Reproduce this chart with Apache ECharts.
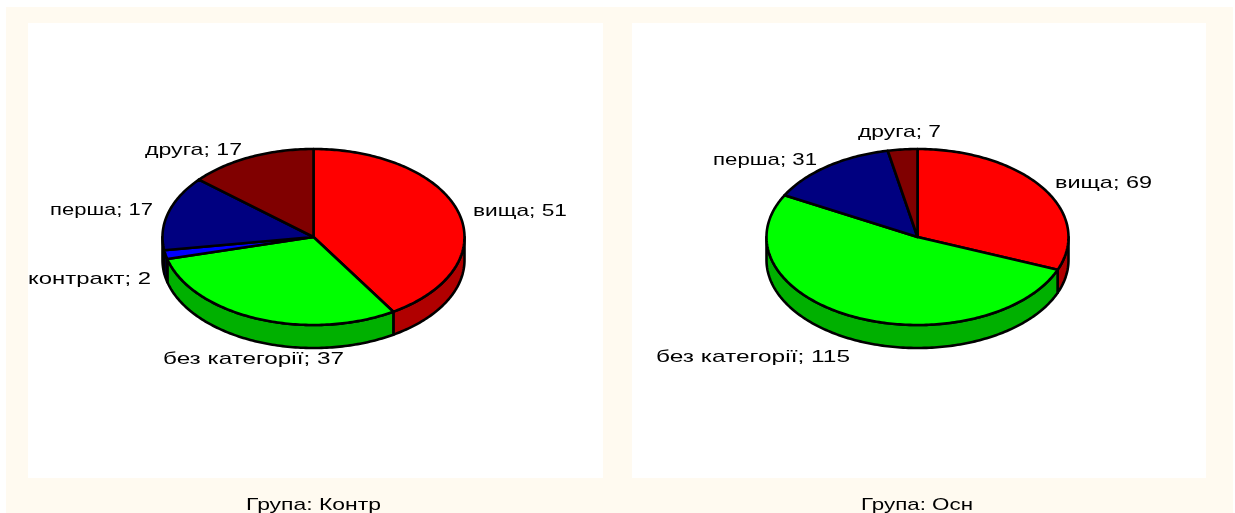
<!DOCTYPE html>
<html><head><meta charset="utf-8">
<style>html,body{margin:0;padding:0;background:#fff}#c{width:1235px;height:513px}</style>
<script src="https://cdn.jsdelivr.net/npm/echarts@6/dist/echarts.min.js"></script>
</head><body><div id="c"></div>
<script>
const categories = ['вища','без категорії','контракт','перша','друга'];
const controlValues = [51,37,2,17,17];
const mainValues = [69,115,0,31,7];
const groupTitles = ['Група: Контр','Група: Осн'];

const topColors = ['#FF0000','#00FF00','#0000FF','#000080','#800000'];
const sideColors = ['#B00000','#00B000','#0000B0','#000058','#580000'];
const FONT = '"Liberation Sans", Arial, sans-serif';
const FONT_SIZE = 17;

// label layout: left edge, middle y, width as measured in the reference
const pies = [
  {values:controlValues, cx:313.5, cy:237, rx:151, ry:88, depth:23,
   labels:[[473,211,94],[163,359,181],[28,279,123],[50,210,103],[145,150,97]]},
  {values:mainValues, cx:917.5, cy:237, rx:151, ry:88, depth:23,
   labels:[[1055,183,97],[656,357,194],null,[713,160,104],[858,132,83]]}
];
const titleLayout = [[246,505,135],[861,505,112]];

const measure = document.createElement('canvas').getContext('2d');
function stretch(text,width){
  measure.font = FONT_SIZE+'px '+FONT;
  return width/measure.measureText(text).width;
}
function angles(values){
  const total = values.reduce((a,b)=>a+b,0);
  let acc = 0;
  return values.map(v=>{const a=acc/total*360; acc+=v; return [a,acc/total*360];});
}
function pt(p,deg,dy){
  const t=deg*Math.PI/180;
  return [p.cx+p.rx*Math.sin(t), p.cy-p.ry*Math.cos(t)+(dy||0)];
}
function arc(p,a,b,dy){
  const n=Math.max(2,Math.ceil(Math.abs(b-a))),out=[];
  for(let i=0;i<=n;i++) out.push(pt(p,a+(b-a)*i/n,dy));
  return out;
}
function textEl(text,pos,z){
  return {type:'text',z:z,x:pos[0],y:pos[1],scaleX:stretch(text,pos[2]),
    style:{text:text,fontFamily:FONT,fontSize:FONT_SIZE,fill:'#000',align:'left',verticalAlign:'middle'}};
}
function makeSeries(p,kind,z){
  const ang=angles(p.values);
  return {
    type:'custom', coordinateSystem:'none', silent:true, z:z, animation:false,
    data:p.values.map((v,i)=>[i,v]),
    renderItem:function(params,api){
      const i=api.value(0), v=api.value(1);
      if(!v) return {type:'group',children:[]};
      const [a,b]=ang[i];
      if(kind==='side'){
        const s=Math.max(a,90), e=Math.min(b,270);
        if(e<=s) return {type:'group',children:[]};
        const pts=arc(p,s,e,0).concat(arc(p,e,s,p.depth));
        return {type:'polygon',shape:{points:pts},
          style:{fill:sideColors[i],stroke:'#000',lineWidth:2.6,lineJoin:'round'}};
      }
      if(kind==='top'){
        const pts=[[p.cx,p.cy]].concat(arc(p,a,b,0));
        return {type:'polygon',shape:{points:pts},
          style:{fill:topColors[i],stroke:'#000',lineWidth:2.6,lineJoin:'round'}};
      }
      return textEl(categories[i]+'; '+v,p.labels[i],0);
    }
  };
}
const series=[];
pies.forEach(p=>{series.push(makeSeries(p,'side',2),makeSeries(p,'top',3),makeSeries(p,'label',4));});

const chart=echarts.init(document.getElementById('c'),null,{renderer:'canvas'});
chart.setOption({
  animation:false,
  backgroundColor:'#fff',
  graphic:[
    {type:'rect',z:0,shape:{x:6,y:7,width:1227,height:506},style:{fill:'#FFFAF0'}},
    {type:'rect',z:0,shape:{x:28,y:23,width:575,height:455},style:{fill:'#fff'}},
    {type:'rect',z:0,shape:{x:632,y:23,width:574,height:455},style:{fill:'#fff'}},
    textEl(groupTitles[0],titleLayout[0],5),
    textEl(groupTitles[1],titleLayout[1],5)
  ],
  series:series
});
</script></body></html>
